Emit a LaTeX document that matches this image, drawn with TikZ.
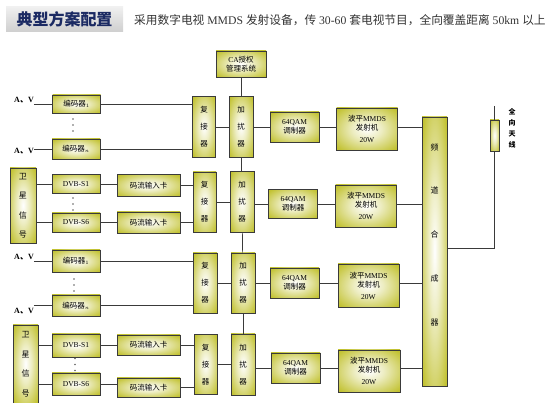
\documentclass[tikz,border=0pt]{standalone}
\usepackage{fontspec}
\setmainfont{Liberation Serif}
\newfontfamily\cjk{Noto Sans CJK SC}
\usetikzlibrary{positioning,calc}
\usepackage{xcolor}
\definecolor{bkolive}{HTML}{C2C232}
\definecolor{bkline}{HTML}{3A3A3A}
\definecolor{bknavy}{HTML}{1B2A63}
\pgfdeclareradialshading{bkglow}{\pgfpoint{0bp}{0bp}}{color(0bp)=(white); color(12bp)=(white!70!bkolive); color(33bp)=(bkolive); color(50bp)=(bkolive)}
\newcommand{\vdotsat}[1]{\fill[bkline!80] ($(#1)+(0,-6)$) circle (0.9pt) (#1) circle (0.9pt) ($(#1)+(0,6)$) circle (0.9pt);}

\begin{document}
\begin{tikzpicture}[x=1pt,y=-1pt,font=\fontsize{7.5}{9}\selectfont,
        b/.style={draw=bkline,line width=0.8pt,shading=bkglow,align=center,inner sep=0pt},
        v/.style={b,font=\cjk\fontsize{7.5}{17}\selectfont},
        enc/.style={b,minimum width=48pt},
        card/.style={b,minimum width=63pt,font=\cjk\fontsize{7.5}{9}\selectfont},
        qam/.style={b,minimum width=49pt,minimum height=30pt},
        tx/.style={b,minimum width=61pt,minimum height=42pt},
        lbl/.style={font=\bfseries\fontsize{8}{9}\selectfont,inner sep=0pt},
        a/.style={draw=bkline,line width=0.7pt}]
        \useasboundingbox (0,0) rectangle (555,403);
        % header
        \node[top color=gray!12,bottom color=gray!38,minimum width=117pt,minimum height=25pt,inner sep=0pt,
          font=\cjk\bfseries\fontsize{16}{18}\selectfont,text=bknavy] (title) at (64.5,19.5) {典型方案配置};
        \node[anchor=west,inner sep=0pt,font=\fontsize{11.7}{12}\selectfont,text=black!80] (sub) at (134,20)
          {{\cjk 采用数字电视} MMDS {\cjk 发射设备，传} 30-60 {\cjk 套电视节目，全向覆盖距离} 50km {\cjk 以上}};
        \node[b,minimum width=50pt,minimum height=26pt] (ca) at (241,64) {CA{\cjk 授权}\\{\cjk 管理系统}};

        % group 1
        \node[lbl] (av1) at (24,100) {A{\cjk 、}V};
        \node[lbl] (av2) at (24,151) {A{\cjk 、}V};
        \node[enc,minimum height=18pt] (enc1) at (76.5,104) {{\cjk 编码器}$_1$};
        \node[enc,minimum height=20pt] (enc2) at (76,149) {{\cjk 编码器}$_n$};
        \coordinate (dots1) at (73,125);
        \node[v,minimum width=23pt,minimum height=61pt] (mux1) at (204,127) {复\\接\\器};
        \node[v,minimum width=24pt,minimum height=61pt] (scr1) at (241,127) {加\\扰\\器};
        \node[qam] (qam1) at (294.5,127) {64QAM\\{\cjk 调制器}};
        \node[tx] (tx1) at (367,129) {{\cjk 波平}MMDS\\{\cjk 发射机}\\[3pt]20W};

        % group 2
        \node[v,font=\cjk\fontsize{8}{19.5}\selectfont,minimum width=26pt,minimum height=75pt] (sat1) at (23,205.5) {卫\\星\\信\\号};
        \node[enc,minimum height=19pt] (dvb1) at (76,184) {DVB-S1};
        \node[enc,minimum height=19pt] (dvb2) at (76,222.5) {DVB-S6};
        \coordinate (dots2) at (73,204);
        \node[card,minimum height=22pt] (card1) at (148.5,185.5) {码流输入卡};
        \node[card,minimum height=21pt] (card2) at (148.5,222.5) {码流输入卡};
        \node[v,minimum width=23pt,minimum height=60pt] (mux2) at (204.5,202) {复\\接\\器};
        \node[v,minimum width=24pt,minimum height=61pt] (scr2) at (242,202) {加\\扰\\器};
        \node[qam,minimum height=29pt] (qam2) at (293,204) {64QAM\\{\cjk 调制器}};
        \node[tx] (tx2) at (366,206) {{\cjk 波平}MMDS\\{\cjk 发射机}\\[3pt]20W};

        % group 3
        \node[lbl] (av3) at (24,257) {A{\cjk 、}V};
        \node[lbl] (av4) at (24,311) {A{\cjk 、}V};
        \node[enc,minimum height=22pt] (enc3) at (76,261) {{\cjk 编码器}$_1$};
        \node[enc,minimum height=21pt] (enc4) at (76,305.5) {{\cjk 编码器}$_n$};
        \coordinate (dots3) at (74,285);
        \node[v,minimum width=24pt,minimum height=60pt] (mux3) at (205,283) {复\\接\\器};
        \node[v,minimum width=24pt,minimum height=60pt] (scr3) at (243,283) {加\\扰\\器};
        \node[qam] (qam3) at (294.5,283) {64QAM\\{\cjk 调制器}};
        \node[tx,minimum height=43pt] (tx3) at (368.5,285.5) {{\cjk 波平}MMDS\\{\cjk 发射机}\\[3pt]20W};

        % group 4
        \node[v,font=\cjk\fontsize{8}{19.5}\selectfont,minimum width=25pt,minimum height=78pt] (sat2) at (25.5,364) {卫\\星\\信\\号};
        \node[enc,minimum height=23pt] (dvb3) at (76,345.5) {DVB-S1};
        \node[enc,minimum height=22pt] (dvb4) at (76,384) {DVB-S6};
        \coordinate (dots4) at (75,364.5);
        \node[card,minimum height=20pt] (card3) at (148.5,345) {码流输入卡};
        \node[card,minimum height=19pt] (card4) at (148.5,387.5) {码流输入卡};
        \node[v,minimum width=23pt,minimum height=60pt] (mux4) at (205.5,364.5) {复\\接\\器};
        \node[v,minimum width=24pt,minimum height=61pt] (scr4) at (243,364.5) {加\\扰\\器};
        \node[qam] (qam4) at (295.5,368) {64QAM\\{\cjk 调制器}};
        \node[tx,minimum width=62pt] (tx4) at (369,371) {{\cjk 波平}MMDS\\{\cjk 发射机}\\[3pt]20W};

        % combiner and antenna
        \node[b,minimum width=25pt,minimum height=269pt] (comb) at (434.5,251.5) {};
        \node[font=\cjk\fontsize{8}{43.75}\selectfont,align=center,inner sep=0pt] (combtxt) at (434.5,234.5) {频\\道\\合\\成\\器};
        \node[b,minimum width=9pt,minimum height=31pt] (ant) at (494.5,135.5) {};
        \node[font=\cjk\bfseries\fontsize{7}{11}\selectfont,align=center,inner sep=0pt] (antlbl) at (512,128.5) {全\\向\\天\\线};
        \coordinate (anttop) at (494.5,106);
        \coordinate (antbot) at (494.5,248);

        \vdotsat{dots1}
        \vdotsat{dots2}
        \vdotsat{dots3}
        \vdotsat{dots4}

        % connectors
        \draw[a] (av1.east |- enc1) -- (enc1);
        \draw[a] (av2.east |- enc2) -- (enc2);
        \draw[a] (enc1) -- (enc1 -| mux1.west);
        \draw[a] (enc2) -- (enc2 -| mux1.west);
        \draw[a] (sat1.east |- dvb1) -- (dvb1);
        \draw[a] (sat1.east |- dvb2) -- (dvb2);
        \draw[a] (dvb1) -- (dvb1 -| card1.west);
        \draw[a] (dvb2) -- (dvb2 -| card2.west);
        \draw[a] (card1) -- (card1 -| mux2.west);
        \draw[a] (card2) -- (card2 -| mux2.west);
        \draw[a] (av3.east |- enc3) -- (enc3);
        \draw[a] (av4.east |- enc4) -- (enc4);
        \draw[a] (enc3) -- (enc3 -| mux3.west);
        \draw[a] (enc4) -- (enc4 -| mux3.west);
        \draw[a] (sat2.east |- dvb3) -- (dvb3);
        \draw[a] (sat2.east |- dvb4) -- (dvb4);
        \draw[a] (dvb3) -- (dvb3 -| card3.west);
        \draw[a] (dvb4) -- (dvb4 -| card4.west);
        \draw[a] (card3) -- (card3 -| mux4.west);
        \draw[a] (card4) -- (card4 -| mux4.west);

        \draw[a] (ca) -- (scr1);
        \draw[a] (scr1) -- (scr2);
        \draw[a] (scr2) -- (scr3);
        \draw[a] (scr3) -- (scr4);

        \draw[a] (mux1) -- (scr1);
        \draw[a] (scr1.east |- qam1) -- (qam1);
        \draw[a] (qam1) -- (qam1 -| tx1.west);
        \draw[a] (tx1.east |- qam1) -- (qam1 -| comb.west);
        \draw[a] (mux2) -- (scr2);
        \draw[a] (scr2.east |- qam2) -- (qam2);
        \draw[a] (qam2) -- (qam2 -| tx2.west);
        \draw[a] (tx2.east |- qam2) -- (qam2 -| comb.west);
        \draw[a] (mux3) -- (scr3);
        \draw[a] (scr3.east |- qam3) -- (qam3);
        \draw[a] (qam3) -- (qam3 -| tx3.west);
        \draw[a] (tx3.east |- qam3) -- (qam3 -| comb.west);
        \draw[a] (mux4) -- (scr4);
        \draw[a] (scr4.east |- qam4) -- (qam4);
        \draw[a] (qam4) -- (qam4 -| tx4.west);
        \draw[a] (tx4.east |- qam4) -- (qam4 -| comb.west);

        \draw[a] (anttop) -- (ant);
        \draw[a] (ant) -- (antbot) -- (antbot -| comb.east);
      \end{tikzpicture}
\end{document}
